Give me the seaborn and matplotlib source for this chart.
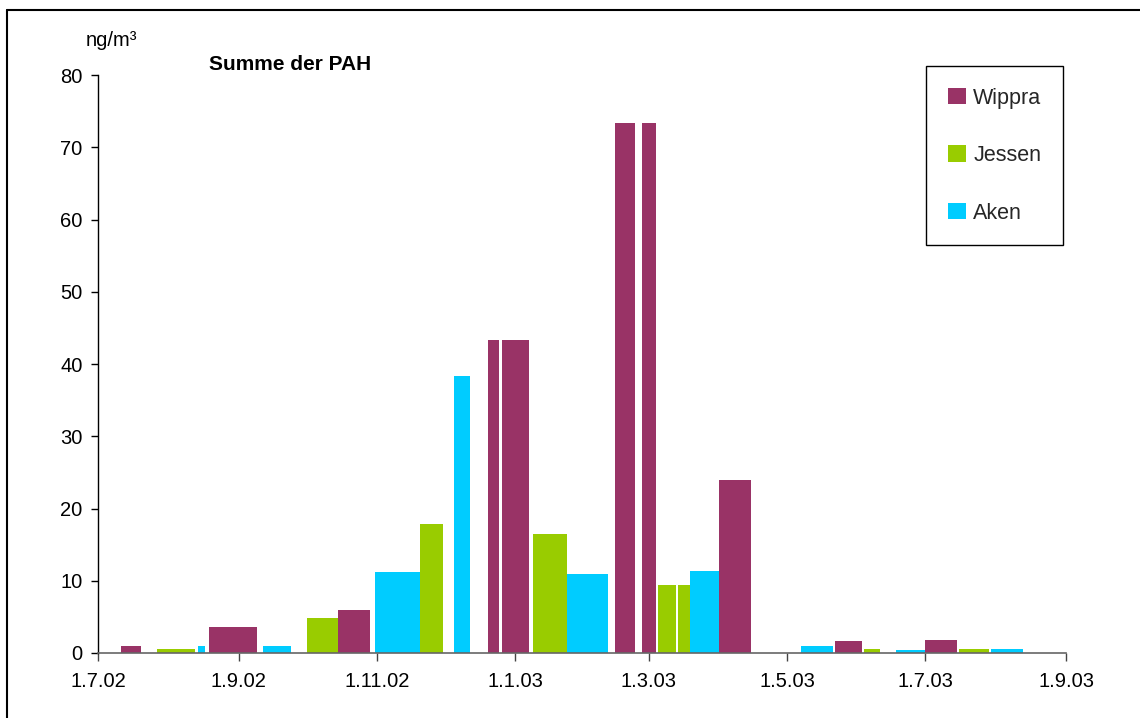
import matplotlib
matplotlib.use("Agg")
import matplotlib.pyplot as plt
import matplotlib.dates as mdates
from matplotlib.patches import Patch
from matplotlib.lines import Line2D
import numpy as np
import pandas as pd
import seaborn as sns

# ---------------- data ----------------
series_names = ["Wippra", "Jessen", "Aken"]
series_colors = ["#993366", "#99CC00", "#00CCFF"]

wippra_start = ["2002-07-11", "2002-08-19", "2002-10-15", "2002-12-20", "2002-12-26",
                "2003-02-14", "2003-02-26", "2003-04-01", "2003-05-22", "2003-07-01"]
wippra_end = ["2002-07-20", "2002-09-09", "2002-10-29", "2002-12-25", "2003-01-07",
              "2003-02-23", "2003-03-04", "2003-04-15", "2003-06-03", "2003-07-15"]
wippra_values = [1.0, 3.6, 6.0, 43.3, 43.3, 73.3, 73.3, 24.0, 1.6, 1.8]

jessen_start = ["2002-07-27", "2002-10-01", "2002-11-20", "2003-01-09", "2003-03-05",
                "2003-03-14", "2003-06-04", "2003-07-16"]
jessen_end = ["2002-08-13", "2002-10-15", "2002-11-30", "2003-01-24", "2003-03-13",
              "2003-03-19", "2003-06-11", "2003-07-29"]
jessen_values = [0.6, 4.8, 17.9, 16.5, 9.4, 9.4, 0.5, 0.5]

aken_start = ["2002-08-14", "2002-09-12", "2002-10-31", "2002-12-05", "2003-01-24",
              "2003-03-19", "2003-05-07", "2003-06-18", "2003-07-30"]
aken_end = ["2002-08-17", "2002-09-24", "2002-11-20", "2002-12-12", "2003-02-11",
            "2003-04-01", "2003-05-21", "2003-07-01", "2003-08-13"]
aken_values = [1.0, 1.0, 11.2, 38.3, 11.0, 11.3, 0.9, 0.45, 0.5]

tick_dates = ["2002-07-01", "2002-09-01", "2002-11-01", "2003-01-01",
              "2003-03-01", "2003-05-01", "2003-07-01", "2003-09-01"]
tick_labels = ["1.7.02", "1.9.02", "1.11.02", "1.1.03", "1.3.03", "1.5.03", "1.7.03", "1.9.03"]
y_ticks = [0, 10, 20, 30, 40, 50, 60, 70, 80]

title_text = "Summe der PAH"
unit_text = "ng/m³"

# ---------------- style ----------------
sns.set_theme(style="white")
plt.rcParams["font.family"] = ["Liberation Sans", "DejaVu Sans"]

fig = plt.figure(figsize=(11.4, 7.18), dpi=100)
W, H = 1140, 718
ax = fig.add_axes([98 / W, 1 - 653 / H, (1066 - 98) / W, (653 - 75) / H])


def to_num(lst):
    return [float(v) for v in mdates.date2num(pd.to_datetime(lst))]


series = [
    (wippra_start, wippra_end, wippra_values),
    (jessen_start, jessen_end, jessen_values),
    (aken_start, aken_end, aken_values),
]

for (starts, ends, vals), name, col in zip(series, series_names, series_colors):
    s = to_num(starts)
    e = to_num(ends)
    edges = []
    for a, b in zip(s, e):
        edges += [a, b]
    mids = [(a + b) / 2 for a, b in zip(s, e)]
    df = pd.DataFrame({"date": mids, "value": [float(v) for v in vals]})
    sns.histplot(data=df, x="date", weights="value", bins=edges, stat="count",
                 color=col, alpha=1, linewidth=0, ax=ax)

ax.set_xlim(to_num(["2002-07-01"])[0], to_num(["2003-09-01"])[0])
ax.set_ylim(0, 80)
ax.set_xlabel("")
ax.set_ylabel("")

ax.set_xticks(to_num(tick_dates))
ax.set_xticklabels(tick_labels)
ax.set_yticks(y_ticks)

for side in ["top", "right"]:
    ax.spines[side].set_visible(False)
ax.spines["left"].set_color("black")
ax.spines["left"].set_linewidth(1.0)
ax.spines["bottom"].set_color("#666666")
ax.spines["bottom"].set_linewidth(1.2)

ax.tick_params(axis="y", direction="out", length=5, width=1, color="black",
               labelsize=14.5, labelcolor="black", pad=6, left=True)
ax.tick_params(axis="x", direction="out", length=6, width=1, color="#444444",
               labelsize=14.5, labelcolor="black", pad=8, bottom=True)
ax.grid(False)

# title and unit
fig.text(209 / W, 1 - 64 / H, title_text, fontsize=15, fontweight="bold",
         ha="left", va="center", color="black")
fig.text(86 / W, 1 - 41 / H, unit_text, fontsize=14.5, ha="left", va="center", color="black")

# legend
handles = [Patch(facecolor=c, edgecolor="none", label=n) for n, c in zip(series_names, series_colors)]
leg = ax.legend(handles=handles, loc="upper right",
                bbox_to_anchor=(1063 / W, 1 - 66 / H), bbox_transform=fig.transFigure,
                borderaxespad=0, frameon=True, fancybox=False, shadow=False,
                fontsize=15.5, handlelength=0.85, handleheight=0.8, handletextpad=0.35,
                labelspacing=1.7, borderpad=1.0, framealpha=1)
leg.get_frame().set_edgecolor("black")
leg.get_frame().set_linewidth(1.0)

# outer frame (top and left edges visible)
fig.add_artist(Line2D([7 / W, 1.0], [1 - 10 / H, 1 - 10 / H], transform=fig.transFigure,
                      color="black", linewidth=1.5))
fig.add_artist(Line2D([7 / W, 7 / W], [0.0, 1 - 10 / H], transform=fig.transFigure,
                      color="black", linewidth=1.5))

fig.savefig("out.png", dpi=100, facecolor="white")
